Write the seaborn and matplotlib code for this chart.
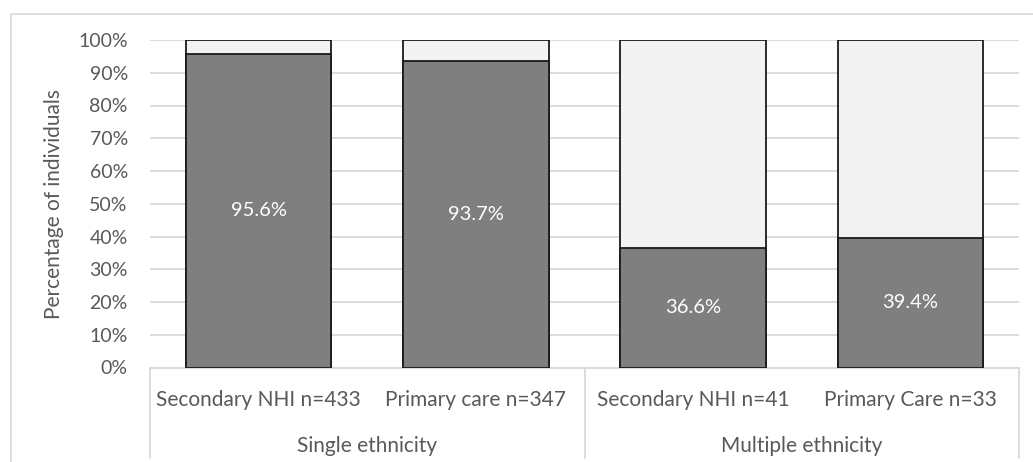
import matplotlib
matplotlib.use("Agg")
import matplotlib.pyplot as plt
import matplotlib.transforms as mtransforms
from matplotlib.patches import Rectangle
import seaborn as sns
import pandas as pd

# Data
groups = ["Single ethnicity", "Multiple ethnicity"]
categories = ["Secondary NHI n=433", "Primary care n=347",
              "Secondary NHI n=41", "Primary Care n=33"]
category_group = ["Single ethnicity", "Single ethnicity",
                  "Multiple ethnicity", "Multiple ethnicity"]
share = [95.6, 93.7, 36.6, 39.4]
total = [100, 100, 100, 100]
yticks = [0, 10, 20, 30, 40, 50, 60, 70, 80, 90, 100]

sns.set_theme(style="white")
plt.rcParams["font.family"] = ["Lato", "DejaVu Sans"]

TEXT = "#595959"
GRID = "#d9d9d9"
DARK = "#7f7f7f"
LIGHT = "#f2f2f2"
EDGE = "#1a1a1a"

W, H = 1033, 462
fig = plt.figure(figsize=(W / 100, H / 100), dpi=100)
fig.patch.set_facecolor("white")

# outer chart frame
fig.patches.append(Rectangle((10.5 / W, -0.1), 1.2, 1 - 14 / H + 0.1,
                             transform=fig.transFigure, fill=False,
                             edgecolor=GRID, linewidth=1.2))

ax_h_px = 367.5 - 40
ax = fig.add_axes([150 / W, 1 - 367.5 / H, (1019 - 150) / W, ax_h_px / H])

df = pd.DataFrame({"category": categories, "group": category_group,
                   "share": share, "total": total})

sns.barplot(data=df, x="category", y="total", order=categories, color=LIGHT,
            saturation=1, width=0.67, edgecolor=EDGE, linewidth=1.3, ax=ax,
            zorder=2)
sns.barplot(data=df, x="category", y="share", order=categories, color=DARK,
            saturation=1, width=0.67, edgecolor=EDGE, linewidth=1.3, ax=ax,
            zorder=3)

ax.set_xlim(-0.5, len(categories) - 0.5)
ax.set_ylim(0, 100)
ax.set_yticks(yticks)
ax.set_yticklabels([f"{t}%" for t in yticks])
ax.tick_params(axis="y", length=0, pad=16, labelsize=14, labelcolor=TEXT)
ax.tick_params(axis="x", length=0, labelbottom=False)
ax.set_xlabel("")
ax.set_ylabel("Percentage of individuals", fontsize=15, color=TEXT)
ax.yaxis.set_label_coords((64 - 150) / (1019 - 150), 0.5)
ax.yaxis.grid(True, color=GRID, linewidth=1.3, zorder=0)
ax.set_axisbelow(True)
for side in ["top", "right", "left"]:
    ax.spines[side].set_visible(False)
ax.spines["bottom"].set_color(GRID)
ax.spines["bottom"].set_linewidth(1.3)

# value labels inside the dark segments
for i, v in enumerate(share):
    ax.text(i, v / 2, f"{v}%", ha="center", va="center", color="white",
            fontsize=14.5, zorder=5)

# two-level category axis
trans = mtransforms.blended_transform_factory(ax.transData, ax.transAxes)

def below(pixels):
    return -pixels / ax_h_px

for i, c in enumerate(categories):
    ax.text(i, below(33), c, transform=trans, ha="center", va="center",
            fontsize=15, color=TEXT)

group_positions = {}
for i, g in enumerate(category_group):
    group_positions.setdefault(g, []).append(i)
for g in groups:
    idx = group_positions[g]
    ax.text(sum(idx) / len(idx), below(78.5), g, transform=trans,
            ha="center", va="center", fontsize=15, color=TEXT)

for xb in [-0.5, 1.5, 3.5]:
    ax.plot([xb, xb], [0, below(90.5)], transform=trans, color=GRID,
            linewidth=1.3, clip_on=False)

fig.savefig("out.png", dpi=100, facecolor="white")
